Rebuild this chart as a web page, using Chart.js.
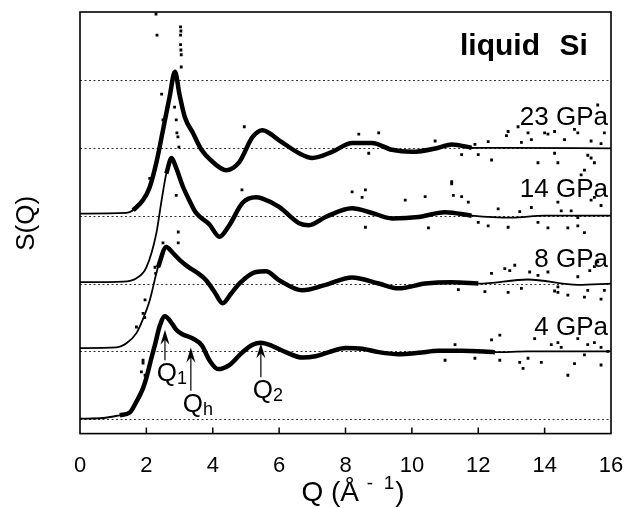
<!DOCTYPE html>
<html lang="en">
<head>
<meta charset="UTF-8">
<title>liquid Si S(Q)</title>
<script src="https://cdn.jsdelivr.net/npm/chart.js"></script>
<style>
  html, body { margin: 0; padding: 0; background: #fff; }
  #wrap { width: 632px; height: 508px; }
</style>
</head>
<body>
<div id="wrap"><canvas id="sq" width="632" height="508"></canvas></div>
<script>
// S(Q) of liquid Si. Each pressure is shifted up by one unit.
const pressures = ['4 GPa', '8 GPa', '14 GPa', '23 GPa'];
const offsets = [0, 1, 2, 3];
const gridLevels = [0, 1, 2, 3, 4, 5];
const xTicks = [0, 2, 4, 6, 8, 10, 12, 14, 16];

// fitted curves
const q4 = [0, 0.7, 1.2, 1.5, 1.7, 1.9, 2.0, 2.15, 2.26, 2.4, 2.56, 2.7, 2.9, 3.1, 3.4, 3.67, 3.9, 4.16, 4.5, 4.9, 5.2, 5.45, 5.8, 6.2, 6.7, 7.1, 7.5, 8.0, 8.5, 9.0, 9.6, 10.2, 10.8, 11.5, 12.5, 13.5, 14.5, 16];
const s4 = [0.01, 0.02, 0.06, 0.1, 0.26, 0.46, 0.61, 0.9, 1.1, 1.37, 1.52, 1.46, 1.32, 1.25, 1.19, 1.09, 0.87, 0.74, 0.80, 0.99, 1.1, 1.13, 1.08, 0.99, 0.91, 0.93, 0.99, 1.05, 1.04, 0.99, 0.96, 0.98, 1.01, 1.01, 0.99, 1.0, 1.0, 1.0];

const q8 = [0, 1.1, 1.4, 1.7, 1.9, 2.1, 2.35, 2.6, 2.8, 3.0, 3.25, 3.5, 3.8, 4.05, 4.3, 4.55, 4.8, 5.3, 5.6, 6.0, 6.7, 7.4, 8.2, 9.0, 9.6, 10.4, 11.2, 12.0, 13.5, 15.0, 16];
const s8 = [0.05, 0.06, 0.12, 0.27, 0.48, 0.75, 1.24, 1.54, 1.45, 1.35, 1.25, 1.17, 1.05, 0.88, 0.71, 0.85, 1.0, 1.17, 1.18, 1.05, 0.90, 0.98, 1.09, 1.0, 0.93, 1.0, 1.02, 1.0, 1.06, 0.98, 1.0];

const q14 = [0, 1.3, 1.7, 2.0, 2.3, 2.45, 2.6, 2.76, 2.9, 3.1, 3.3, 3.5, 3.9, 4.2, 4.5, 4.9, 5.3, 5.5, 6.0, 6.6, 6.9, 7.4, 8.2, 8.8, 9.4, 10.2, 11.0, 11.8, 13.0, 14.0, 16];
const s14 = [0.02, 0.03, 0.08, 0.24, 0.74, 1.2, 1.62, 1.85, 1.7, 1.43, 1.22, 1.04, 0.87, 0.69, 0.86, 1.19, 1.27, 1.25, 1.13, 0.89, 0.86, 0.98, 1.11, 1.04, 0.96, 0.98, 1.05, 1.0, 0.97, 1.0, 1.0];

const q23 = [0, 1.4, 1.6, 1.9, 2.1, 2.3, 2.5, 2.7, 2.86, 3.0, 3.16, 3.4, 3.66, 4.0, 4.4, 4.8, 5.2, 5.5, 6.0, 6.6, 7.0, 7.6, 8.2, 8.8, 9.4, 10.0, 10.8, 11.2, 11.8, 13.0, 16];
const s23 = [0.03, 0.04, 0.08, 0.23, 0.42, 0.78, 1.26, 1.75, 2.12, 1.78, 1.45, 1.22, 0.97, 0.79, 0.67, 0.79, 1.16, 1.26, 1.11, 0.92, 0.85, 0.94, 1.07, 1.07, 0.97, 0.94, 1.0, 1.05, 1.0, 1.0, 0.99];

// Q range where the measured points are dense
const denseRange = [[1.2, 12.5], [2.3, 12.0], [2.5, 11.8], [1.6, 11.8]];

// stray measured points
const o4Q = [1.85, 1.9, 1.9, 1.96, 11.0, 11.3, 11.9, 12.4, 12.65, 12.65, 13.25, 13.35, 13.5, 13.7, 13.9, 14.2, 14.4, 14.5, 14.7, 14.9, 15.0, 15.2, 15.3, 15.5, 15.7, 15.7, 15.9];
const o4S = [0.7, 0.87, 0.83, 0.65, 0.87, 1.1, 0.9, 1.17, 1.24, 0.87, 0.84, 0.75, 0.9, 1.19, 0.84, 1.1, 1.13, 1.06, 0.65, 0.82, 1.19, 0.95, 1.1, 1.13, 1.06, 0.8, 1.0];

const o8Q = [1.7, 1.9, 1.95, 1.96, 2.26, 2.28, 2.5, 2.96, 2.96, 11.4, 12.2, 12.4, 12.8, 12.9, 12.95, 13.1, 13.3, 13.55, 13.8, 14.1, 14.3, 14.4, 14.4, 14.7, 15.0, 15.2, 15.3, 15.36, 15.5, 15.6, 15.7, 15.8];
const o8S = [0.36, 0.56, 0.5, 0.76, 1.24, 1.15, 1.6, 1.76, 1.6, 0.91, 0.88, 1.15, 1.22, 0.87, 1.19, 1.27, 0.93, 1.17, 1.12, 1.17, 0.89, 0.87, 0.95, 0.83, 1.1, 0.8, 0.9, 1.19, 1.25, 1.32, 0.77, 0.9];

const o14Q = [2.85, 2.9, 2.92, 2.95, 2.98, 2.9, 4.88, 8.2, 8.5, 8.6, 8.6, 9.8, 10.4, 10.5, 11.2, 11.2, 11.25, 11.5, 11.7, 12.0, 12.3, 12.6, 12.9, 13.25, 13.6, 13.8, 14.1, 14.4, 14.5, 14.7, 14.8, 15.0, 15.0, 15.2, 15.4, 15.5, 15.7, 15.8];
const o14S = [2.6, 2.41, 2.22, 2.16, 2.01, 1.3, 1.38, 1.35, 1.27, 1.38, 0.83, 1.23, 1.28, 0.82, 1.5, 1.47, 1.3, 1.28, 1.2, 0.9, 0.85, 1.1, 0.83, 1.06, 1.12, 0.9, 0.82, 1.2, 1.07, 0.82, 1.07, 0.85, 0.97, 0.75, 1.23, 1.27, 1.15, 1.38];

const o23Q = [2.29, 2.32, 3.03, 3.04, 3.03, 3.04, 3.03, 3.05, 3.05, 2.46, 2.5, 2.1, 4.95, 8.4, 9.0, 8.7, 10.7, 11.5, 11.9, 12.0, 12.3, 12.4, 12.85, 12.9, 13.2, 13.3, 13.5, 13.6, 13.8, 14.0, 14.1, 14.3, 14.3, 14.4, 14.6, 14.9, 15.0, 15.1, 15.2, 15.3, 15.4, 15.4, 15.5, 15.6, 15.7, 15.8];
const o23S = [2.97, 2.66, 2.78, 2.72, 2.66, 2.44, 2.52, 2.37, 2.19, 1.79, 1.41, 0.55, 1.31, 1.2, 1.22, 0.92, 1.1, 0.9, 1.05, 0.9, 1.09, 0.82, 1.18, 1.24, 1.31, 1.08, 1.22, 1.12, 0.78, 1.22, 1.2, 1.24, 0.92, 0.78, 1.12, 1.27, 1.22, 0.6, 0.67, 0.89, 0.85, 1.1, 0.78, 1.63, 1.06, 1.22];

// peak markers on the 4 GPa curve
const peakSubs = ['1', 'h', '2'];
const peakQ = [2.56, 3.34, 5.45];

const curves = [[q4, s4], [q8, s8], [q14, s14], [q23, s23]];
const strays = [[o4Q, o4S], [o8Q, o8S], [o14Q, o14S], [o23Q, o23S]];

const FONT = '"Liberation Sans", Arial, Helvetica, sans-serif';

const datasets = [];
curves.forEach(([qs, ss], i) => {
  const pts = qs.map((q, k) => ({ x: q, y: ss[k] + offsets[i] }));
  const [lo, hi] = denseRange[i];
  datasets.push({
    data: pts, showLine: true, borderColor: '#000', borderWidth: 1.8,
    pointRadius: 0, cubicInterpolationMode: 'monotone'
  });
  datasets.push({
    data: pts.filter(p => p.x >= lo && p.x <= hi), showLine: true,
    borderColor: '#000', borderWidth: 4.5, pointRadius: 0,
    cubicInterpolationMode: 'monotone'
  });
  const [oq, os] = strays[i];
  datasets.push({
    data: oq.map((q, k) => ({ x: q, y: os[k] + offsets[i] })), showLine: false,
    pointRadius: 2, pointStyle: 'rect', backgroundColor: '#000', borderWidth: 0
  });
});

// arrow tip / tail heights (in S units) for the peak markers
const arrowTip = [1.32, 1.06, 1.12];
const arrowTail = [0.87, 0.42, 0.62];
const labelLift = [1.24, 1.24, 1.27, 1.33];

function drawArrow(ctx, x, yTip, yTail) {
  ctx.lineWidth = 1.2;
  ctx.beginPath();
  ctx.moveTo(x, yTail);
  ctx.lineTo(x, yTip + 8);
  ctx.stroke();
  ctx.beginPath();
  ctx.moveTo(x, yTip);
  ctx.lineTo(x - 4.5, yTip + 15);
  ctx.lineTo(x, yTip + 10);
  ctx.lineTo(x + 4.5, yTip + 15);
  ctx.closePath();
  ctx.fill();
}

const decor = {
  id: 'decor',
  beforeDatasetsDraw(chart) {
    const { ctx, chartArea: a, scales: { y } } = chart;
    ctx.save();
    ctx.strokeStyle = '#333';
    ctx.lineWidth = 1;
    ctx.setLineDash([2, 2.5]);
    gridLevels.forEach(v => {
      const py = Math.round(y.getPixelForValue(v)) + 0.5;
      ctx.beginPath();
      ctx.moveTo(a.left, py);
      ctx.lineTo(a.right, py);
      ctx.stroke();
    });
    ctx.restore();
  },
  afterDatasetsDraw(chart) {
    const { ctx, chartArea: a, scales: { x, y } } = chart;
    ctx.save();
    ctx.fillStyle = '#000';
    ctx.strokeStyle = '#000';

    // frame and inward ticks
    ctx.lineWidth = 1.6;
    ctx.strokeRect(a.left, a.top, a.right - a.left, a.bottom - a.top);
    ctx.lineWidth = 1.5;
    xTicks.forEach(t => {
      const px = x.getPixelForValue(t);
      if (px <= a.left + 1 || px >= a.right - 1) return;
      ctx.beginPath();
      ctx.moveTo(px, a.bottom);
      ctx.lineTo(px, a.bottom - 6);
      ctx.stroke();
    });

    // pressure labels
    ctx.font = '26px ' + FONT;
    ctx.textAlign = 'right';
    ctx.textBaseline = 'alphabetic';
    pressures.forEach((p, i) => {
      ctx.fillText(p, a.right - 3, y.getPixelForValue(offsets[i] + labelLift[i]));
    });

    // title inside the plot
    ctx.font = 'bold 30px ' + FONT;
    ctx.textAlign = 'left';
    ctx.fillText('liquid', x.getPixelForValue(11.45), y.getPixelForValue(5.37));
    ctx.textAlign = 'right';
    ctx.fillText('Si', x.getPixelForValue(15.3), y.getPixelForValue(5.37));

    // peak arrows with Q labels
    peakQ.forEach((q, i) => {
      const px = x.getPixelForValue(q);
      const tip = y.getPixelForValue(arrowTip[i]);
      const tail = y.getPixelForValue(arrowTail[i]);
      drawArrow(ctx, px, tip, tail);
      ctx.font = '26px ' + FONT;
      const w1 = ctx.measureText('Q').width;
      const left = px + 2 - w1 / 2;
      const base = tail + 21;
      ctx.textAlign = 'left';
      ctx.fillText('Q', left, base);
      ctx.font = '18px ' + FONT;
      ctx.fillText(peakSubs[i], left + w1, base + 3);
    });
    ctx.restore();
  },
  afterDraw(chart) {
    const { ctx, chartArea: a } = chart;
    ctx.save();
    ctx.fillStyle = '#000';
    ctx.textBaseline = 'alphabetic';

    // y title
    ctx.translate(27, (a.top + a.bottom) / 2 + 0.5);
    ctx.rotate(-Math.PI / 2);
    ctx.font = '26px ' + FONT;
    ctx.textAlign = 'center';
    ctx.textBaseline = 'middle';
    ctx.fillText('S(Q)', 0, 0);
    ctx.setTransform(1, 0, 0, 1, 0, 0);

    // x title: Q (Å -1) with superscript
    ctx.textBaseline = 'alphabetic';
    ctx.textAlign = 'left';
    const big = '28px ' + FONT, small = '19px ' + FONT;
    ctx.font = big;
    const w1 = ctx.measureText('Q (Å ').width;
    const w3 = ctx.measureText(')').width;
    ctx.font = small;
    const w2 = ctx.measureText('-  1').width;
    const cx = (a.left + a.right) / 2 + 7;
    let left = cx - (w1 + w2 + w3) / 2;
    const base = 501;
    ctx.font = big;
    ctx.fillText('Q (Å ', left, base);
    ctx.font = small;
    ctx.fillText('-  1', left + w1, base - 12);
    ctx.font = big;
    ctx.fillText(')', left + w1 + w2 + 1, base);
    ctx.restore();
  }
};

new Chart(document.getElementById('sq'), {
  type: 'scatter',
  data: { datasets },
  options: {
    responsive: false,
    animation: false,
    devicePixelRatio: 1,
    layout: { padding: { left: 80, right: 21, top: 12, bottom: 10 } },
    plugins: { legend: { display: false }, tooltip: { enabled: false } },
    scales: {
      x: {
        type: 'linear', min: 0, max: 16,
        afterBuildTicks: axis => { axis.ticks = xTicks.map(v => ({ value: v })); },
        // tick padding should not widen the side margins
        afterFit: axis => { axis.paddingLeft = 0; axis.paddingRight = 0; },
        grid: { display: false, drawTicks: false },
        border: { display: false },
        ticks: { color: '#000', padding: 19, font: { family: FONT, size: 22 } }
      },
      y: {
        type: 'linear', min: -0.21, max: 6.0, display: false
      }
    }
  },
  plugins: [decor]
});
</script>
</body>
</html>
